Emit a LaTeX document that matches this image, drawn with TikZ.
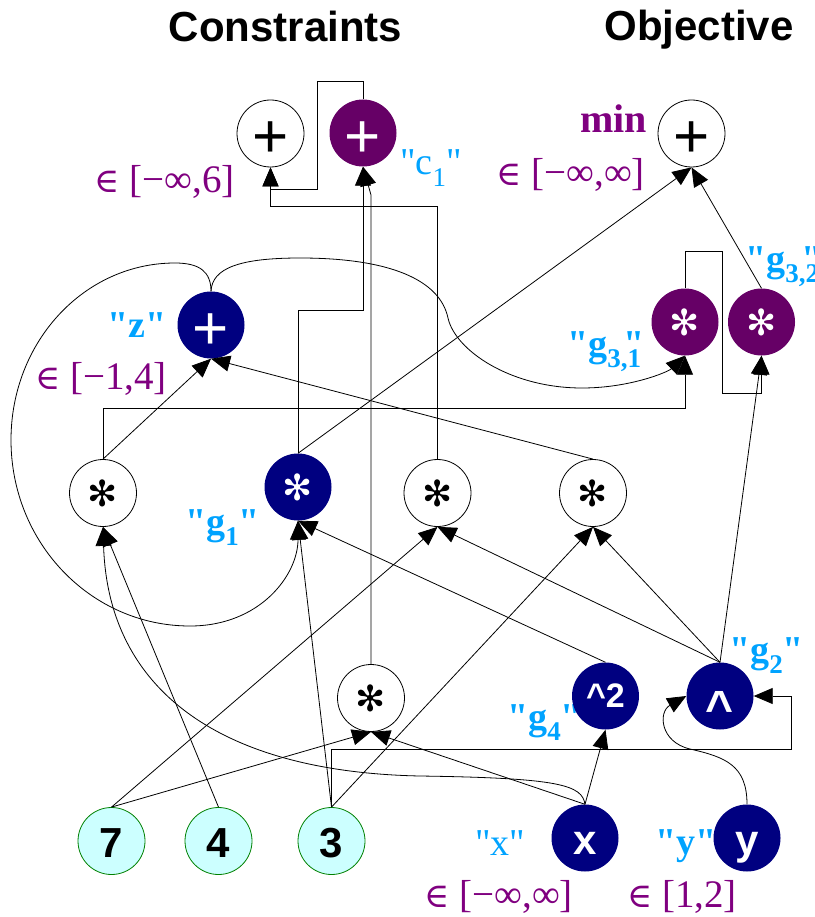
\documentclass[tikz,border=0pt]{standalone}
\usepackage{fontspec}
\setmainfont{Liberation Serif}[Ligatures=TeXOff]
\newfontfamily\lsans{Liberation Sans}
\newfontfamily\djv{DejaVu Sans}
\newfontfamily\djs{DejaVu Serif}
\usetikzlibrary{arrows.meta}
\definecolor{navy}{RGB}{0,0,128}
\definecolor{pnode}{RGB}{102,0,102}
\definecolor{plab}{RGB}{128,0,128}
\definecolor{clab}{RGB}{0,163,255}
\definecolor{gfill}{RGB}{204,255,255}
\definecolor{gline}{RGB}{0,128,0}
\newcommand\fs[1]{\fontsize{#1}{#1}\selectfont}
\newcommand\sbs[1]{\raisebox{-0.3em}{\fs{27}#1}}
\newcommand\inn{{\djs\fs{34}∈}}
\newcommand\qq{"}
\begin{document}
\begin{tikzpicture}[x=1pt,y=-1pt,
  nd/.style={circle,minimum size=67pt,inner sep=0pt},
  wn/.style={nd,draw=black,line width=0.8pt,fill=white},
  nv/.style={nd,fill=navy,text=white},
  pn/.style={nd,fill=pnode,text=white},
  gn/.style={nd,draw=gline,fill=gfill,line width=0.8pt},
  plus/.style={font=\lsans\fs{62},text height=49pt,text depth=0pt},
  ast/.style={font=\djv\fs{36}},
  bt/.style={font=\lsans\bfseries\fs{42},text height=32pt,text depth=0pt},
  ttl/.style={font=\lsans\bfseries\fs{42},inner sep=0pt},
  con/.style={line width=0.8pt,-{Triangle[length=19pt,width=16pt]}},
  rng/.style={text=plab,font=\fs{39},inner sep=0pt},
  nm/.style={text=clab,font=\fs{38},inner sep=0pt},
]
\useasboundingbox (0,0) rectangle (814,917);
% titles
\node[ttl,anchor=base] (t1) at (285.5,42) {Constraints};
\node[ttl,anchor=base] (t2) at (699,41) {Objective};
% labels
\node[rng,anchor=base east] (l1) at (235,193) {\inn\ [−∞,6]};
\node[nm,anchor=base west] (l2) at (400,175) {\qq c\sbs{1}\qq};
\node[rng,anchor=base east,font=\bfseries\fs{40}] (l3) at (647,133) {min};
\node[rng,anchor=base east] (l4) at (645,186) {\inn\ [−∞,∞]};
\node[nm,anchor=base east,font=\bfseries\fs{38}] (l5) at (167,337) {\qq z\qq};
\node[rng,anchor=base east] (l6) at (167,389) {\inn\ [−1,4]};
\node[nm,anchor=base west,font=\bfseries\fs{38}] (l7) at (567,356) {\qq g\sbs{3,1}\hspace{-0.45em}\qq};
\node[nm,anchor=base west,font=\bfseries\fs{38}] (l8) at (745,271) {\qq g\sbs{3,2}\hspace{-0.45em}\qq};
\node[nm,anchor=base west,font=\bfseries\fs{38}] (l9) at (185,534) {\qq g\sbs{1}\qq};
\node[nm,anchor=base west,font=\bfseries\fs{38}] (l10) at (507,729) {\qq g\sbs{4}\qq};
\node[nm,anchor=base west,font=\bfseries\fs{38}] (l11) at (729,662) {\qq g\sbs{2}\qq};
\node[nm,anchor=base west] (l12) at (475,855) {\qq x\qq};
\node[rng,anchor=base east] (l13) at (573,907) {\inn\ [−∞,∞]};
\node[nm,anchor=base west,font=\bfseries\fs{38}] (l14) at (655,854) {\qq y\qq};
\node[rng,anchor=base west] (l15) at (627,907) {\inn\ [1,2]};
% nodes
\node[wn,plus] (pA) at (270.5,133.5) {+};
\node[pn,plus] (c1) at (363,133) {+};
\node[wn,plus] (mn) at (691.5,133.5) {+};
\node[nv,plus] (z) at (211,325) {+};
\node[pn,ast] (g31) at (685,322) {✻};
\node[pn,ast] (g32) at (761.5,322) {✻};
\node[wn,ast] (m1) at (103,493) {✻};
\node[nv,ast] (g1) at (298,487) {✻};
\node[wn,ast] (m3) at (437.5,493) {✻};
\node[wn,ast] (m4) at (593,493) {✻};
\node[wn,ast] (m5) at (371,698) {✻};
\node[nv,bt,font=\lsans\bfseries\fs{34},text height=22pt] (g4) at (605.5,696) {\textasciicircum2};
\node[nv,bt,font=\lsans\bfseries\fs{48},text height=56pt] (g2) at (720,696) {\textasciicircum};
\node[gn,bt] (n7) at (111.5,841) {7};
\node[gn,bt] (n4) at (218.5,841) {4};
\node[gn,bt] (n3) at (331.5,841) {3};
\node[nv,bt] (x) at (585,838) {x};
\node[nv,bt] (y) at (747,838) {y};
% connectors
\draw[con] (c1.north) |- (317,81) |- (pA.south |- 0,189) -- (pA.south);
\draw[con] (m3.north) |- (pA.south |- 0,206) -- (pA.south);
\draw[con] (g1.north) |- (c1.south |- 0,310) -- (c1.south);
\draw[con] (m5.north) -- (371,195) -- (c1.south);
\draw[con] (g1.north) -- (mn.south);
\draw[con] (g32.north) -- (mn.south);
\draw[con] (m1.north) -- (z.south);
\draw[con] (m4.north) -- (z.south);
\draw[con] (z.north) .. controls (211,272) and (200,263) .. (175,263)
  .. controls (84,263) and (11,342) .. (11,440)
  .. controls (11,543) and (91,626) .. (190,626)
  .. controls (260,626) and (298,575) .. (g1.south);
\draw[con] (z.north) .. controls (212,268) and (240,258) .. (300,258)
  .. controls (390,258) and (440,280) .. (448,318)
  .. controls (455,350) and (510,388) .. (582,388)
  .. controls (630,388) and (668,372) .. (g31.south);
\draw[con] (m1.north) |- (g31.south |- 0,408) -- (g31.south);
\draw[con] (g31.north) |- (722,251) |- (g32.south |- 0,393) -- (g32.south);
\draw[con] (g2.north) -- (g32.south);
\draw[con] (n4.north) -- (m1.south);
\draw[con] (x.north) .. controls (582,785) and (560,778) .. (420,776)
  .. controls (220,772) and (108,690) .. (m1.south);
\draw[con] (n3.north) -- (g1.south);
\draw[con] (g4.north) -- (g1.south);
\draw[con] (n7.north) -- (m3.south);
\draw[con] (g2.north) -- (m3.south);
\draw[con] (n3.north) -- (m4.south);
\draw[con] (g2.north) -- (m4.south);
\draw[con] (n7.north) -- (m5.south);
\draw[con] (x.north) -- (m5.south);
\draw[con] (x.north) -- (g4.south);
\draw[con] (y.north) .. controls (747,765) and (725,757) .. (690,749)
  .. controls (660,742) and (658,712) .. (g2.west);
\draw[con] (n3.north) |- (791,749) |- (g2.east);
\end{tikzpicture}
\end{document}
